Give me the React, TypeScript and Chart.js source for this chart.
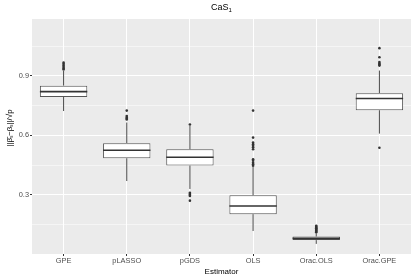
import React, { useEffect, useRef } from "react";
import { Chart, registerables } from "chart.js";

Chart.register(...registerables);

const categories = ["GPE", "pLASSO", "pGDS", "OLS", "Orac.OLS", "Orac.GPE"];
const q1 = [0.794, 0.485, 0.448, 0.203, 0.072, 0.727];
const medians = [0.821, 0.525, 0.49, 0.244, 0.081, 0.786];
const q3 = [0.851, 0.561, 0.53, 0.298, 0.09, 0.813];
const whiskerLow = [0.723, 0.37, 0.33, 0.118, 0.053, 0.609];
const whiskerHigh = [0.925, 0.665, 0.648, 0.443, 0.107, 0.927];
const outliers: number[][] = [
  [0.967, 0.96, 0.952, 0.945, 0.938, 0.932],
  [0.725, 0.698, 0.69, 0.685, 0.68],
  [0.655, 0.311, 0.305, 0.3, 0.295, 0.271],
  [0.725, 0.589, 0.564, 0.556, 0.548, 0.54, 0.53, 0.48, 0.472, 0.462, 0.455, 0.447],
  [0.144, 0.14, 0.136, 0.132, 0.128, 0.124, 0.12, 0.116, 0.112],
  [1.04, 0.994, 0.97, 0.963, 0.957, 0.952, 0.538],
];
const yTickValues = [0.15, 0.3, 0.45, 0.6, 0.75, 0.9, 1.05];
const majorTicks = [0.3, 0.6, 0.9];
const titleText = "CaS";
const titleSub = "1";
const yTitle = "||β̂ₛ−βₛ||/√p";
const xTitle = "Estimator";

const FONT = "'Liberation Sans', Arial, sans-serif";

const isMajor = (v: number) => majorTicks.some((m) => Math.abs(m - v) < 1e-6);

export default function App() {
  const ref = useRef<HTMLCanvasElement>(null);
  useEffect(() => {
    document.body.style.margin = "0";
    const canvas = ref.current!;
    const boxPlugin = {
      id: "boxextras",
      beforeDraw(chart: any) {
        const { ctx, chartArea } = chart;
        ctx.save();
        ctx.fillStyle = "#EBEBEB";
        ctx.fillRect(chartArea.left, chartArea.top, chartArea.right - chartArea.left, chartArea.bottom - chartArea.top);
        ctx.restore();
      },
      afterDatasetsDraw(chart: any) {
        const { ctx } = chart;
        const xs = chart.scales.x;
        const ys = chart.scales.y;
        const meta = chart.getDatasetMeta(0);
        ctx.save();
        categories.forEach((c, i) => {
          const x = xs.getPixelForValue(i);
          ctx.strokeStyle = "#4a4a4a";
          ctx.lineWidth = 1;
          ctx.beginPath();
          ctx.moveTo(x, ys.getPixelForValue(q3[i]));
          ctx.lineTo(x, ys.getPixelForValue(whiskerHigh[i]));
          ctx.moveTo(x, ys.getPixelForValue(q1[i]));
          ctx.lineTo(x, ys.getPixelForValue(whiskerLow[i]));
          ctx.stroke();
          const bar = meta.data[i];
          const half = bar.width / 2;
          ctx.strokeStyle = "#333333";
          ctx.lineWidth = 1.6;
          ctx.beginPath();
          const my = ys.getPixelForValue(medians[i]);
          ctx.moveTo(x - half, my);
          ctx.lineTo(x + half, my);
          ctx.stroke();
        });
        ctx.restore();
      },
      afterDraw(chart: any) {
        const { ctx, chartArea } = chart;
        ctx.save();
        ctx.fillStyle = "#000000";
        ctx.textBaseline = "middle";
        ctx.font = `9px ${FONT}`;
        const w1 = ctx.measureText(titleText).width;
        ctx.font = `6px ${FONT}`;
        const w2 = ctx.measureText(titleSub).width;
        const cx = (chartArea.left + chartArea.right) / 2;
        const sx = cx - (w1 + w2) / 2;
        ctx.textAlign = "left";
        ctx.font = `9px ${FONT}`;
        ctx.fillText(titleText, sx, 8);
        ctx.font = `6px ${FONT}`;
        ctx.fillText(titleSub, sx + w1, 10.5);
        ctx.translate(10, 128);
        ctx.rotate(-Math.PI / 2);
        ctx.font = `8px ${FONT}`;
        ctx.textAlign = "center";
        ctx.fillText(yTitle, 0, 0);
        ctx.restore();
      },
    };

    const outlierData: any[] = [];
    outliers.forEach((arr, i) => arr.forEach((v) => outlierData.push({ x: categories[i], y: v })));

    const chart = new Chart(canvas, {
      type: "bar",
      data: {
        labels: categories,
        datasets: [
          {
            type: "bar",
            data: categories.map((_, i) => [q1[i], q3[i]]) as any,
            backgroundColor: "#FFFFFF",
            borderColor: "#555555",
            borderWidth: 1,
            borderSkipped: false,
            barPercentage: 0.75,
            categoryPercentage: 1,
            grouped: false,
          } as any,
          {
            type: "scatter",
            data: outlierData,
            backgroundColor: "#333333",
            borderColor: "#333333",
            pointRadius: 1.3,
            borderWidth: 0,
            showLine: false,
          } as any,
        ],
      },
      options: {
        animation: false,
        responsive: false,
        maintainAspectRatio: false,
        layout: { padding: { top: 19, right: 3, left: 0, bottom: 0 } },
        plugins: { legend: { display: false }, tooltip: { enabled: false }, title: { display: false } },
        scales: {
          x: {
            type: "category",
            offset: true,
            grid: { offset: false, color: "#FFFFFF", lineWidth: 1, tickColor: "#333333", tickLength: 2 },
            border: { display: false },
            ticks: { font: { size: 7.4, family: FONT }, color: "#4D4D4D", padding: 1, maxRotation: 0, autoSkip: false },
            title: { display: true, text: xTitle, font: { size: 8, family: FONT }, color: "#000000", padding: { top: 1, bottom: 0 } },
            afterFit: (s: any) => { s.height = 23; },
          },
          y: {
            min: 0.002,
            max: 1.187,
            afterBuildTicks: (s: any) => { s.ticks = yTickValues.map((v) => ({ value: v })); },
            grid: {
              color: "#FFFFFF",
              lineWidth: (c: any) => (isMajor(c.tick?.value) ? 1.1 : 0.5),
              tickColor: (c: any) => (isMajor(c.tick?.value) ? "#333333" : "rgba(0,0,0,0)"),
              tickLength: 2,
            },
            border: { display: false },
            ticks: {
              font: { size: 7.4, family: FONT },
              color: "#4D4D4D",
              padding: 1,
              callback: (v: any) => (isMajor(Number(v)) ? Number(v).toFixed(1) : ""),
            },
            afterFit: (s: any) => { s.width = 32; },
          },
        },
      },
      plugins: [boxPlugin],
    });
    return () => chart.destroy();
  }, []);
  return (
    <div style={{ position: "fixed", left: 0, top: 0, width: 415, height: 277 }}>
      <canvas ref={ref} width={415} height={277} style={{ width: 415, height: 277 }} />
    </div>
  );
}
